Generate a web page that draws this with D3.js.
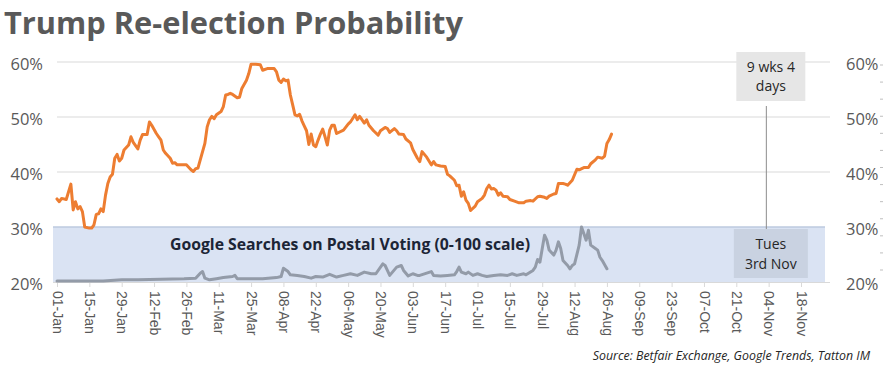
<!DOCTYPE html>
<html><head><meta charset="utf-8">
<script src="https://cdn.jsdelivr.net/npm/d3@7/dist/d3.min.js"></script>
<style>body{margin:0;background:#fff}svg{display:block}</style>
</head><body>
<svg id="chart" width="883" height="366"></svg>
<script>
// ---------- data ----------
const titleText = "Trump Re-election Probability";
const bandLabel = "Google Searches on Postal Voting (0-100 scale)";
const sourceText = "Source: Betfair Exchange, Google Trends, Tatton IM";
const tickLabels = ["01-Jan","15-Jan","29-Jan","12-Feb","26-Feb","11-Mar","25-Mar","08-Apr","22-Apr","06-May","20-May","03-Jun","17-Jun","01-Jul","15-Jul","29-Jul","12-Aug","26-Aug","09-Sep","23-Sep","07-Oct","21-Oct","04-Nov","18-Nov"];
const yTicks = [0.2, 0.3, 0.4, 0.5, 0.6];
const electionDay = "03-Nov";
const topNote = ["9 wks 4", "days"];
const bottomNote = ["Tues", "3rd Nov"];

// Betfair probability (%), days since 01-Jan-2020
const betDays = [0,1,2,4,6,7,8,9,10,11,12,14,15,16,17,18,19,20,21,22,23,24,25,26,27,28,29,31,32,33,35,36,37,39,40,41,43,44,45,46,47,49,50,51,52,54,56,58,59,60,61,63,64,65,66,67,68,69,71,72,73,74,75,76,78,79,80,82,83,84,86,88,89,91,94,95,96,97,98,99,100,101,102,103,104,105,106,107,108,109,110,111,112,113,114,115,116,117,118,119,120,121,124,126,127,129,130,131,133,134,135,137,139,140,142,143,144,146,147,148,150,151,153,154,156,157,158,160,162,163,164,166,168,169,170,172,173,174,175,176,177,178,179,181,182,184,185,186,187,188,189,190,191,192,193,195,196,198,200,202,203,205,206,208,209,211,212,213,215,216,217,219,220,221,223,224,225,226,228,230,231,233,234,236,237,238,239,240];
const betVals = [35.1,34.6,35.2,35.0,37.8,33.1,34.6,33.3,33.7,32.8,30.0,29.8,29.8,30.4,32.3,32.4,33.3,32.8,35.8,37.9,39.1,39.6,42.5,43.2,42.0,42.5,44.0,44.9,46.4,45.4,44.2,45.8,46.8,46.8,49.1,48.5,47.0,46.4,45.8,44.0,43.4,42.5,41.6,41.7,41.3,41.3,41.3,40.4,40.1,40.6,40.7,43.7,45.2,48.2,49.5,50.1,49.7,50.4,51.0,51.9,54.0,54.1,54.3,54.1,53.5,53.6,55.2,56.7,57.9,59.6,59.6,59.5,58.5,58.8,58.8,58.2,56.7,56.3,56.9,56.6,56.7,54.0,52.2,50.4,50.2,50.5,49.3,48.4,47.5,45.0,46.9,44.9,44.6,45.8,46.9,47.8,46.4,44.9,47.6,48.5,48.5,47.0,47.6,48.7,49.1,50.4,49.5,50.1,48.9,49.5,48.5,47.5,46.7,47.5,48.1,47.9,47.2,47.9,47.5,46.9,46.8,46.0,45.3,44.1,42.5,41.9,43.7,42.7,41.3,41.9,41.3,41.1,41.0,39.6,39.3,38.5,37.5,37.6,35.6,36.4,34.9,34.3,33.0,33.8,34.6,35.2,35.8,37.0,37.6,36.9,37.0,36.7,35.8,36.2,35.6,35.5,35.0,34.7,34.4,34.4,34.7,34.8,34.7,35.5,35.6,35.4,35.2,35.6,36.0,36.1,37.9,37.9,37.8,37.6,38.5,39.5,40.5,40.4,40.8,40.8,41.5,42.2,42.7,42.5,42.9,45.2,45.9,46.9];

// Google Trends index (0-100), days since 01-Jan-2020
const gDays = [0,20,28,35,45,55,60,62,63,64,66,69,72,76,77,78,84,89,95,97,98,100,101,104,107,110,112,115,118,121,124,127,130,133,136,138,141,142,143,144,147,149,150,152,154,156,157,162,163,166,169,172,173,174,175,177,178,180,182,184,186,189,192,195,197,199,202,203,206,207,208,209,211,212,213,215,216,217,218,219,221,222,223,224,226,227,228,229,230,231,233,234,235,236,238];
const gVals = [2,2,4,4,5,6,7,16,19,7,4,6,8,10,12,6,6,6,8,10,25,19,13,12,10,7,10,9,14,9,12,15,12,18,15,15,33,30,21,12,27,30,21,11,15,12,12,19,12,11,12,13,19,27,18,15,18,12,15,12,10,12,13,12,15,12,15,13,21,27,41,36,85,76,58,49,58,73,61,39,30,24,30,33,67,100,88,76,94,67,61,58,45,39,24];

// ---------- helpers ----------
const YEAR = 2020;
const parseDM = d3.utcParse("%d-%b-%Y");
const toDate = s => parseDM(s + "-" + YEAR);
const start = toDate(tickLabels[0]);
const fromDay = n => d3.utcDay.offset(start, n);
const tickDates = tickLabels.map(toDate);

const svg = d3.select("#chart");
const FONT = "'Open Sans', 'Noto Sans', sans-serif";

const x = d3.scaleUtc().domain([tickDates[0], tickDates[tickDates.length - 1]]).range([57, 801]);
const y = d3.scaleLinear().domain([0.2, 0.6]).range([282, 62]);
const gy = d3.scaleLinear().domain([0, 100]).range([y(0.2), y(0.3)]);

function fit(sel, w) {
  let fs = parseFloat(sel.attr("font-size"));
  for (let i = 0; i < 4; i++) {
    const len = sel.node().getComputedTextLength();
    fs = fs * w / len;
    sel.attr("font-size", fs);
  }
}

// ---------- title ----------
const title = svg.append("text").attr("x", 4).attr("y", 34)
  .attr("font-family", FONT).attr("font-weight", 700).attr("font-size", 27)
  .attr("fill", "#595959").text(titleText);
fit(title, 459);

// ---------- gridlines ----------
svg.append("g").selectAll("line").data(yTicks.filter(d => d > 0.3)).join("line")
  .attr("x1", 57).attr("x2", 830)
  .attr("y1", d => y(d)).attr("y2", d => y(d))
  .attr("stroke", "#d9d9d9").attr("stroke-width", 1.2);

// ---------- google band ----------
svg.append("rect").attr("x", 53).attr("width", 825 - 53)
  .attr("y", y(0.3)).attr("height", y(0.2) - y(0.3))
  .attr("fill", "#dae3f3");
svg.append("line").attr("x1", 53).attr("x2", 825)
  .attr("y1", y(0.3)).attr("y2", y(0.3))
  .attr("stroke", "#bccadf").attr("stroke-width", 1.5);

const bl = svg.append("text").attr("x", 170).attr("y", 250)
  .attr("font-family", FONT).attr("font-weight", 700).attr("font-size", 16)
  .attr("fill", "#1c2536").text(bandLabel);
fit(bl, 360);

// ---------- x axis ----------
const xAxis = svg.append("g").attr("transform", `translate(0,${y(0.2)})`)
  .call(d3.axisBottom(x).tickValues(tickDates).tickFormat((d, i) => tickLabels[i]).tickSize(5).tickSizeOuter(0));
xAxis.select(".domain").attr("stroke", "#d9d9d9").attr("d", "M53,0.5H830");
xAxis.selectAll(".tick line").attr("stroke", "#d9d9d9");
xAxis.selectAll(".tick text")
  .attr("font-family", "'Liberation Sans', Arial, sans-serif").attr("font-size", 14)
  .attr("fill", "#595959")
  .attr("transform", "rotate(90)").attr("text-anchor", "start")
  .attr("x", 9).attr("y", 0).attr("dy", "0.35em");

// ---------- y axes ----------
const yl = svg.append("g").attr("transform", "translate(43,0)")
  .call(d3.axisLeft(y).tickValues(yTicks).tickFormat(d3.format(".0%")).tickSize(0).tickPadding(0));
yl.select(".domain").remove();
yl.selectAll("text").attr("font-family", FONT).attr("font-size", 16.5).attr("fill", "#595959").attr("dy", 7.5);

const yr = svg.append("g").attr("transform", "translate(846,0)")
  .call(d3.axisRight(y).tickValues(yTicks).tickFormat(d3.format(".0%")).tickSize(0).tickPadding(0));
yr.select(".domain").remove();
yr.selectAll("text").attr("font-family", FONT).attr("font-size", 16.5).attr("fill", "#595959").attr("dy", 7.5);

// faint minor ticks on right edge
const minor = d3.scaleLinear().domain([0, 12]).range([65, 270]);
svg.append("g").selectAll("line").data(d3.range(13)).join("line")
  .attr("x1", 880).attr("x2", 883)
  .attr("y1", d => minor(d)).attr("y2", d => minor(d))
  .attr("stroke", "#bfbfbf");

// ---------- lines ----------
const gLine = d3.line().x((d, i) => x(fromDay(gDays[i]))).y((d, i) => gy(gVals[i]));
svg.append("path").datum(gVals).attr("d", gLine)
  .attr("fill", "none").attr("stroke", "#939ba8").attr("stroke-width", 3)
  .attr("stroke-linejoin", "round").attr("stroke-linecap", "round");

const bLine = d3.line().x((d, i) => x(fromDay(betDays[i]))).y((d, i) => y(betVals[i] / 100));
svg.append("path").datum(betVals).attr("d", bLine)
  .attr("fill", "none").attr("stroke", "#ed7d31").attr("stroke-width", 3)
  .attr("stroke-linejoin", "round").attr("stroke-linecap", "round");

// ---------- election annotation ----------
const ex = x(toDate(electionDay));
svg.append("line").attr("x1", ex).attr("x2", ex).attr("y1", 106).attr("y2", 229)
  .attr("stroke", "#8c8c8c").attr("stroke-width", 1);

const cx = ex + 4.5;
svg.append("rect").attr("x", cx - 34.5).attr("y", 52).attr("width", 69).attr("height", 49).attr("fill", "#e6e6e6");
svg.append("g").selectAll("text").data(topNote).join("text")
  .attr("x", cx).attr("y", (d, i) => 72 + i * 19)
  .attr("text-anchor", "middle").attr("font-family", FONT).attr("font-size", 14)
  .attr("fill", "#262626").text(d => d);

svg.append("rect").attr("x", cx - 37).attr("y", 229).attr("width", 74).attr("height", 49).attr("fill", "#c9d2e1");
svg.append("g").selectAll("text").data(bottomNote).join("text")
  .attr("x", cx).attr("y", (d, i) => 249 + i * 20)
  .attr("text-anchor", "middle").attr("font-family", FONT).attr("font-size", 14)
  .attr("fill", "#262626").text(d => d);

// ---------- source ----------
const src = svg.append("text").attr("x", 870).attr("y", 360).attr("text-anchor", "end")
  .attr("font-family", FONT).attr("font-style", "italic").attr("font-size", 12)
  .attr("fill", "#262626").text(sourceText);
fit(src, 277);
</script>
</body></html>
